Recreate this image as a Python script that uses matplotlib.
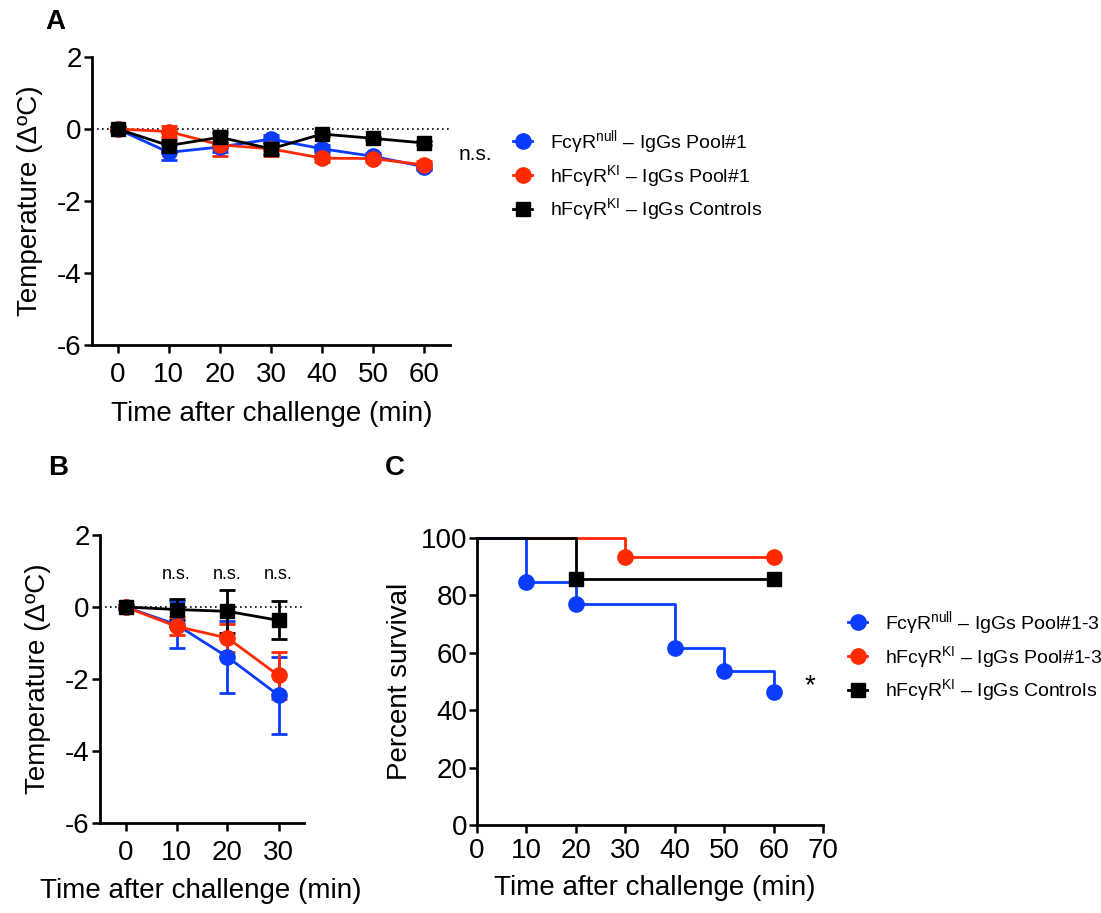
import matplotlib
matplotlib.use("Agg")
import matplotlib.pyplot as plt
import numpy as np

plt.rcParams['font.family'] = ['Liberation Sans', 'DejaVu Sans']
plt.rcParams['mathtext.fontset'] = 'custom'
plt.rcParams['mathtext.rm'] = 'Liberation Sans'
plt.rcParams['mathtext.it'] = 'Liberation Sans:italic'
plt.rcParams['mathtext.bf'] = 'Liberation Sans:bold'
plt.rcParams['axes.unicode_minus'] = False

BLUE = '#0a3cff'
RED = '#ff2a00'
BLACK = '#000000'

# ---------------- Panel A data ----------------
time_a = [0, 10, 20, 30, 40, 50, 60]
a_null_mean = [0, -0.65, -0.50, -0.28, -0.55, -0.76, -1.05]
a_null_err = [0.05, 0.20, 0.15, 0.12, 0.10, 0.10, 0.10]
a_ki_mean = [0, -0.07, -0.44, -0.55, -0.81, -0.82, -1.00]
a_ki_err = [0.05, 0.15, 0.30, 0.20, 0.10, 0.10, 0.10]
a_ctrl_mean = [0, -0.46, -0.23, -0.55, -0.14, -0.26, -0.39]
a_ctrl_err = [0.05, 0.15, 0.15, 0.15, 0.05, 0.05, 0.05]

# ---------------- Panel B data ----------------
time_b = [0, 10, 20, 30]
b_null_mean = [0, -0.49, -1.39, -2.45]
b_null_err = [0.05, 0.65, 1.00, 1.07]
b_ki_mean = [0, -0.54, -0.86, -1.90]
b_ki_err = [0.05, 0.25, 0.40, 0.65]
b_ctrl_mean = [0, -0.07, -0.12, -0.37]
b_ctrl_err = [0.05, 0.28, 0.60, 0.53]

# ---------------- Panel C data ----------------
c_null_t = [0, 10, 20, 40, 50, 60]
c_null_s = [100, 84.6, 76.9, 61.5, 53.8, 46.2]
c_ki_t = [0, 30, 60]
c_ki_s = [100, 93.3, 93.3]
c_ctrl_t = [0, 20, 60]
c_ctrl_s = [100, 85.7, 85.7]

labels_a = ['FcγR$^{\\mathrm{null}}$ – IgGs Pool#1',
            'hFcγR$^{\\mathrm{KI}}$ – IgGs Pool#1',
            'hFcγR$^{\\mathrm{KI}}$ – IgGs Controls']
labels_c = ['FcγR$^{\\mathrm{null}}$ – IgGs Pool#1-3',
            'hFcγR$^{\\mathrm{KI}}$ – IgGs Pool#1-3',
            'hFcγR$^{\\mathrm{KI}}$ – IgGs Controls']

W, H = 1101, 913
fig = plt.figure(figsize=(W / 100, H / 100), dpi=100)

def rect(x0, y0, x1, y1):
    return [x0 / W, 1 - y1 / H, (x1 - x0) / W, (y1 - y0) / H]

FS = 20
LW = 2.0
MS_C = 11
MS_S = 10

def style(ax):
    for s in ['top', 'right']:
        ax.spines[s].set_visible(False)
    for s in ['left', 'bottom']:
        ax.spines[s].set_linewidth(2.0)
    ax.tick_params(direction='out', length=6, width=1.8, labelsize=FS)
    ax.tick_params(axis='x', pad=6)
    ax.tick_params(axis='y', pad=1.5)

def temp_series(ax, t, m, e, color, marker, ms):
    ax.errorbar(t, m, yerr=e, color=color, marker=marker, ms=ms, lw=LW,
                elinewidth=2, capsize=6, capthick=2, clip_on=False, zorder=3)

# ---------------- Panel A ----------------
axA = fig.add_axes(rect(92, 57, 450, 345))
style(axA)
axA.axhline(0, color='black', ls=(0, (1, 2)), lw=1.2, zorder=1)
temp_series(axA, time_a, a_null_mean, a_null_err, BLUE, 'o', MS_C)
temp_series(axA, time_a, a_ki_mean, a_ki_err, RED, 'o', MS_C)
temp_series(axA, time_a, a_ctrl_mean, a_ctrl_err, BLACK, 's', MS_S)
axA.set_xlim(-5, 65)
axA.set_ylim(-6, 2)
axA.set_xticks(time_a)
axA.set_yticks([2, 0, -2, -4, -6])
axA.set_xlabel('Time after challenge (min)', fontsize=FS, va='center')
axA.xaxis.set_label_coords(0.503, -0.24)
axA.set_ylabel('Temperature (ΔºC)', fontsize=FS, va='center')
axA.yaxis.set_label_coords(-0.173, 0.5)
axA.text(70, -0.72, 'n.s.', fontsize=15, ha='center', va='center', clip_on=False)

hA = [plt.Line2D([], [], color=BLUE, marker='o', ms=MS_C, lw=LW),
      plt.Line2D([], [], color=RED, marker='o', ms=MS_C, lw=LW),
      plt.Line2D([], [], color=BLACK, marker='s', ms=MS_S, lw=LW)]
fig.legend(hA, labels_a, loc='upper left', bbox_to_anchor=(513 / W, 1 - 128 / H),
           frameon=False, fontsize=14, handlelength=1.0, handletextpad=0.9,
           labelspacing=0.38, borderpad=0, borderaxespad=0)

# ---------------- Panel B ----------------
axB = fig.add_axes(rect(100, 535, 304, 823))
style(axB)
axB.axhline(0, color='black', ls=(0, (1, 2)), lw=1.2, zorder=1)
temp_series(axB, time_b, b_null_mean, b_null_err, BLUE, 'o', MS_C)
temp_series(axB, time_b, b_ki_mean, b_ki_err, RED, 'o', MS_C)
temp_series(axB, time_b, b_ctrl_mean, b_ctrl_err, BLACK, 's', MS_S)
axB.set_xlim(-5, 35)
axB.set_ylim(-6, 2)
axB.set_xticks(time_b)
axB.set_yticks([2, 0, -2, -4, -6])
axB.set_xlabel('Time after challenge (min)', fontsize=FS, va='center')
axB.xaxis.set_label_coords(0.495, -0.236)
axB.set_ylabel('Temperature (ΔºC)', fontsize=FS, va='center')
axB.yaxis.set_label_coords(-0.304, 0.5)
for tx in [10, 20, 30]:
    axB.text(tx, 0.89, 'n.s.', fontsize=13, ha='center', va='center')

# ---------------- Panel C ----------------
axC = fig.add_axes(rect(477, 538, 823, 825))
style(axC)
def surv(ax, t, s, color, marker, ms):
    ax.step(t, s, where='post', color=color, lw=LW, clip_on=False, zorder=3)
    ax.plot(t[1:], s[1:], ls='none', marker=marker, ms=ms, color=color,
            clip_on=False, zorder=4)
surv(axC, c_ki_t, c_ki_s, RED, 'o', MS_C)
surv(axC, c_null_t, c_null_s, BLUE, 'o', MS_C)
surv(axC, c_ctrl_t, c_ctrl_s, BLACK, 's', MS_S)
axC.set_xlim(0, 70)
axC.set_ylim(0, 100)
axC.set_xticks(range(0, 71, 10))
axC.set_yticks(range(0, 101, 20))
axC.tick_params(axis='x', pad=3)
axC.tick_params(axis='y', pad=1)
axC.set_xlabel('Time after challenge (min)', fontsize=FS, va='center')
axC.xaxis.set_label_coords(0.514, -0.22)
axC.set_ylabel('Percent survival', fontsize=FS, va='center')
axC.yaxis.set_label_coords(-0.223, 0.5)
axC.text(67.4, 48.5, '*', fontsize=20, ha='center', va='center', clip_on=False)

hC = [plt.Line2D([], [], color=BLUE, marker='o', ms=MS_C, lw=LW),
      plt.Line2D([], [], color=RED, marker='o', ms=MS_C, lw=LW),
      plt.Line2D([], [], color=BLACK, marker='s', ms=MS_S, lw=LW)]
fig.legend(hC, labels_c, loc='upper left', bbox_to_anchor=(848 / W, 1 - 609 / H),
           frameon=False, fontsize=14, handlelength=1.0, handletextpad=0.9,
           labelspacing=0.38, borderpad=0, borderaxespad=0)

# panel letters
fig.text(55 / W, 1 - 22 / H, 'A', fontsize=20, fontweight='bold', ha='center', va='center')
fig.text(58 / W, 1 - 468 / H, 'B', fontsize=20, fontweight='bold', ha='center', va='center')
fig.text(395 / W, 1 - 468 / H, 'C', fontsize=20, fontweight='bold', ha='center', va='center')

fig.savefig('out.png', dpi=100)
